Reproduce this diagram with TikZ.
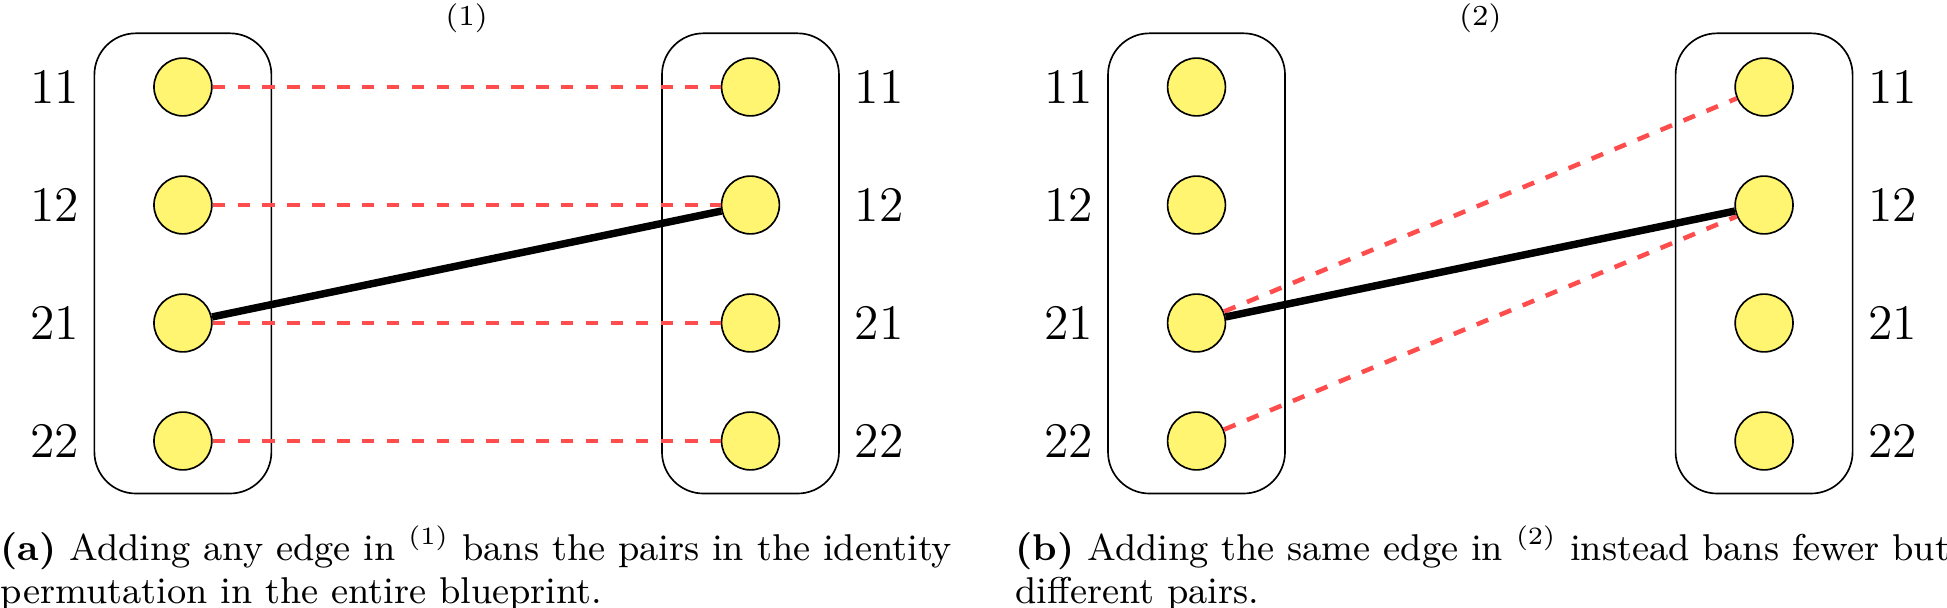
\documentclass[tikz,border=0pt]{standalone}
\usepackage{xcolor}
\definecolor{nodeyellow}{RGB}{255,245,112}
\definecolor{banred}{RGB}{255,77,77}
\tikzset{
  vertex/.style={circle,draw,fill=nodeyellow,minimum size=0.49cm,inner sep=0pt},
  partbox/.style={draw,rounded corners=10pt,minimum width=1.5cm,minimum height=3.9cm},
  lab/.style={font=\large},
  banned/.style={dashed,line width=1.1pt,banred},
  chosen/.style={line width=1.8pt},
  capt/.style={anchor=north west,inner sep=0pt,align=left,font=\fontsize{9}{10.2}\selectfont},
}
\begin{document}
\begin{tikzpicture}[x=1cm,y=1cm]
\useasboundingbox (0,0) rectangle (16.5,5.1525);

% (a)
\node[partbox] (aLbox) at (1.55,2.92) {};
\node[partbox] (aRbox) at (6.36,2.92) {};
\node[font=\scriptsize] (atitle) at (3.955,5.0) {(1)};

\node[vertex] (aL11) at (1.55,4.415) {};
\node[vertex] (aL12) at (1.55,3.415) {};
\node[vertex] (aL21) at (1.55,2.415) {};
\node[vertex] (aL22) at (1.55,1.415) {};
\node[vertex] (aR11) at (6.36,4.415) {};
\node[vertex] (aR12) at (6.36,3.415) {};
\node[vertex] (aR21) at (6.36,2.415) {};
\node[vertex] (aR22) at (6.36,1.415) {};

\node[lab] (aLl11) at (0.466,4.415) {11};
\node[lab] (aLl12) at (0.466,3.415) {12};
\node[lab] (aLl21) at (0.466,2.415) {21};
\node[lab] (aLl22) at (0.466,1.415) {22};
\node[lab] (aRl11) at (7.45,4.415) {11};
\node[lab] (aRl12) at (7.45,3.415) {12};
\node[lab] (aRl21) at (7.45,2.415) {21};
\node[lab] (aRl22) at (7.45,1.415) {22};

\draw[banned] (aL11) -- (aR11);
\draw[banned] (aL12) -- (aR12);
\draw[banned] (aL21) -- (aR21);
\draw[banned] (aL22) -- (aR22);
\draw[chosen] (aL21) -- (aR12);

\node[capt] (acap) at (0,0.70) {\textbf{(a)} Adding any edge in $^{(1)}$ bans the pairs in the identity\\permutation in the entire blueprint.};

% (b)
\node[partbox] (bLbox) at (10.14,2.92) {};
\node[partbox] (bRbox) at (14.95,2.92) {};
\node[font=\scriptsize] (btitle) at (12.545,5.0) {(2)};

\node[vertex] (bL11) at (10.14,4.415) {};
\node[vertex] (bL12) at (10.14,3.415) {};
\node[vertex] (bL21) at (10.14,2.415) {};
\node[vertex] (bL22) at (10.14,1.415) {};
\node[vertex] (bR11) at (14.95,4.415) {};
\node[vertex] (bR12) at (14.95,3.415) {};
\node[vertex] (bR21) at (14.95,2.415) {};
\node[vertex] (bR22) at (14.95,1.415) {};

\node[lab] (bLl11) at (9.055,4.415) {11};
\node[lab] (bLl12) at (9.055,3.415) {12};
\node[lab] (bLl21) at (9.055,2.415) {21};
\node[lab] (bLl22) at (9.055,1.415) {22};
\node[lab] (bRl11) at (16.04,4.415) {11};
\node[lab] (bRl12) at (16.04,3.415) {12};
\node[lab] (bRl21) at (16.04,2.415) {21};
\node[lab] (bRl22) at (16.04,1.415) {22};

\draw[banned] (bL21) -- (bR11);
\draw[banned] (bL22) -- (bR12);
\draw[chosen] (bL21) -- (bR12);

\node[capt] (bcap) at (8.6,0.70) {\textbf{(b)} Adding the same edge in $^{(2)}$ instead bans fewer but\\different pairs.};
\end{tikzpicture}
\end{document}
